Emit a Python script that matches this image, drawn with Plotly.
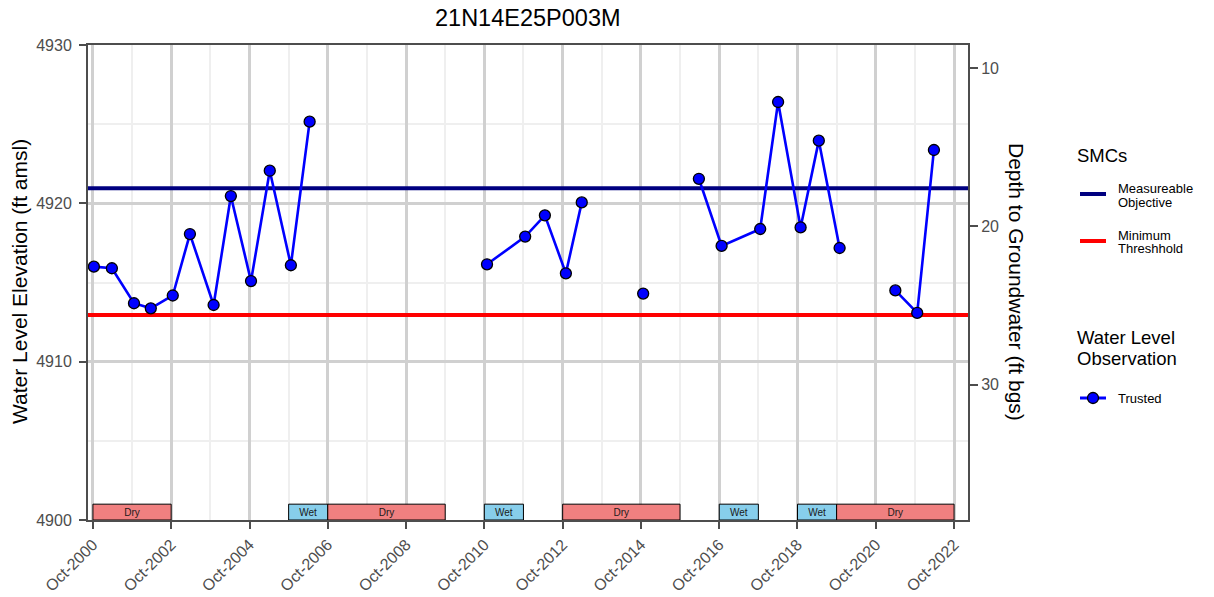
import pandas as pd
import plotly.graph_objects as go

# ---------------- data ----------------
chart_title = "21N14E25P003M"

obs_dates = [
    "2000-10-10", "2001-03-27", "2001-10-19", "2002-03-25", "2002-10-16",
    "2003-03-25", "2003-11-01", "2004-04-10", "2004-10-15", "2005-04-08",
    "2005-10-22", "2006-04-15",
    "2010-10-26", "2011-10-17", "2012-04-18", "2012-10-31", "2013-03-28",
    "2014-10-22",
    "2016-03-25", "2016-10-23", "2017-10-18", "2018-04-03", "2018-10-30",
    "2019-04-18", "2019-10-29",
    "2021-04-01", "2021-10-22", "2022-03-27",
]
obs_elev = [
    4916.0, 4915.9, 4913.69, 4913.37, 4914.18,
    4918.06, 4913.58, 4920.46, 4915.09, 4922.06,
    4916.09, 4925.16,
    4916.15, 4917.9, 4919.24, 4915.58, 4920.06,
    4914.3,
    4921.55, 4917.31, 4918.38, 4926.4, 4918.48,
    4923.96, 4917.18,
    4914.5, 4913.08, 4923.37,
]

mo_elev = 4920.95   # Measureable Objective
mt_elev = 4912.95   # Minimum Threshhold
gse_elev = 4938.55  # ground surface elevation (for depth axis)

period_start = ["2000-10-01", "2005-10-01", "2006-10-01", "2010-10-01",
                "2012-10-01", "2016-10-01", "2018-10-01", "2019-10-01"]
period_end = ["2002-10-01", "2006-10-01", "2009-10-01", "2011-10-01",
              "2015-10-01", "2017-10-01", "2019-10-01", "2022-10-01"]
period_type = ["Dry", "Wet", "Dry", "Wet", "Dry", "Wet", "Wet", "Dry"]

x_ticks = [f"{y}-10-01" for y in range(2000, 2023, 2)]
x_tick_text = [f"Oct-{y}" for y in range(2000, 2023, 2)]
x_minor = [f"{y}-10-01" for y in range(2001, 2023, 2)]
elev_ticks = [4900, 4910, 4920, 4930]
depth_ticks = [10, 20, 30]
elev_range = [4900, 4930]
x_range = ["2000-08-16", "2023-02-08"]

# ---------------- layout geometry ----------------
W, H = 1214, 597
ML, MR, MT, MB = 88, 246, 45, 77
PW, PH = W - ML - MR, H - MT - MB
FONT = "Liberation Sans, Arial, sans-serif"
TICKC = "#4D4D4D"


def px(x):
    return (x - ML) / PW


def py(y):
    return (H - MB - y) / PH


# build broken line (gaps > 400 days)
d = pd.to_datetime(obs_dates)
xs, ys = [], []
for i in range(len(d)):
    if i > 0 and (d[i] - d[i - 1]).days > 400:
        xs.append(None)
        ys.append(None)
    xs.append(d[i])
    ys.append(obs_elev[i])

fig = go.Figure()

# wet / dry period bars
ps = pd.to_datetime(period_start)
pe = pd.to_datetime(period_end)
mids = [s + (e - s) / 2 for s, e in zip(ps, pe)]
widths = [(e - s).total_seconds() * 1000 for s, e in zip(ps, pe)]
fig.add_trace(go.Bar(
    x=mids, y=[1] * len(mids), base=[elev_range[0]] * len(mids), width=widths,
    marker=dict(color=["#F08080" if t == "Dry" else "#87CEEB" for t in period_type],
                line=dict(color="black", width=1)),
    text=period_type, textposition="inside", insidetextanchor="middle",
    textangle=0, textfont=dict(size=10, color="#1A1A1A", family="Liberation Sans"),
    showlegend=False, hoverinfo="skip",
))

# SMC lines
xr = pd.to_datetime(x_range)
fig.add_trace(go.Scatter(x=list(xr), y=[mo_elev, mo_elev], mode="lines",
                         line=dict(color="#000080", width=4),
                         showlegend=False, hoverinfo="skip"))
fig.add_trace(go.Scatter(x=list(xr), y=[mt_elev, mt_elev], mode="lines",
                         line=dict(color="#FF0000", width=4),
                         showlegend=False, hoverinfo="skip"))

fig.add_trace(go.Scatter(
    x=xs, y=ys, mode="lines+markers",
    line=dict(color="#0000FF", width=2.6),
    marker=dict(size=11, color="#0000FF", line=dict(color="black", width=1.3)),
    connectgaps=False, showlegend=False, hoverinfo="x+y",
))
# invisible trace on depth axis
fig.add_trace(go.Scatter(
    x=d, y=[gse_elev - v for v in obs_elev], yaxis="y2", mode="markers",
    marker=dict(opacity=0), showlegend=False, hoverinfo="skip",
))

shapes = []
annotations = []

# title & axis titles
annotations.append(dict(x=px(528), y=py(18), xref="paper", yref="paper",
                        text=chart_title, showarrow=False,
                        font=dict(size=23.5, color="black", family=FONT),
                        xanchor="center", yanchor="middle"))
annotations.append(dict(x=px(19), y=py(282), xref="paper", yref="paper",
                        text="Water Level Elevation (ft amsl)", showarrow=False,
                        textangle=-90,
                        font=dict(size=21, color="black", family=FONT),
                        xanchor="center", yanchor="middle"))
annotations.append(dict(x=px(1017), y=py(282), xref="paper", yref="paper",
                        text="Depth to Groundwater (ft bgs)", showarrow=False,
                        textangle=90,
                        font=dict(size=21, color="black", family=FONT),
                        xanchor="center", yanchor="middle"))

# ---- manual legend ----
def legend_text(x, y, text, size):
    annotations.append(dict(x=px(x), y=py(y), xref="paper", yref="paper",
                            text=text, showarrow=False,
                            font=dict(size=size, color="black", family=FONT),
                            xanchor="left", yanchor="middle"))


legend_text(1075, 155, "SMCs", 18.5)
shapes.append(dict(type="line", xref="paper", yref="paper", x0=px(1080),
                   x1=px(1106), y0=py(194), y1=py(194),
                   line=dict(color="#000080", width=4)))
legend_text(1116, 189, "Measureable", 13)
legend_text(1116, 202, "Objective", 13)
shapes.append(dict(type="line", xref="paper", yref="paper", x0=px(1080),
                   x1=px(1106), y0=py(241), y1=py(241),
                   line=dict(color="#FF0000", width=4)))
legend_text(1116, 235, "Minimum", 13)
legend_text(1116, 248, "Threshhold", 13)

legend_text(1075, 337, "Water Level", 18.5)
legend_text(1075, 358, "Observation", 18.5)
shapes.append(dict(type="line", xref="paper", yref="paper", x0=px(1080),
                   x1=px(1106), y0=py(398), y1=py(398),
                   line=dict(color="#0000FF", width=3)))
shapes.append(dict(type="circle", xref="paper", yref="paper",
                   x0=px(1087.5), x1=px(1098.5), y0=py(403.5), y1=py(392.5),
                   fillcolor="#0000FF", line=dict(color="black", width=1.3)))
legend_text(1116, 398, "Trusted", 13)

fig.update_layout(
    width=W, height=H, autosize=False,
    margin=dict(l=ML, r=MR, t=MT, b=MB, pad=0),
    paper_bgcolor="white", plot_bgcolor="white",
    showlegend=False, barmode="overlay",
    uniformtext=dict(minsize=10, mode="show"),
    font=dict(family=FONT, color=TICKC),
    shapes=shapes, annotations=annotations,
    xaxis=dict(
        type="date", range=x_range, tickmode="array",
        tickvals=x_ticks, ticktext=x_tick_text, tickangle=-45,
        tickfont=dict(size=16, color=TICKC, family=FONT),
        ticks="outside", ticklen=7, tickwidth=2, tickcolor=TICKC,
        showgrid=True, gridcolor="#D0D0D0", gridwidth=2.5,
        minor=dict(tickvals=x_minor, showgrid=True, gridcolor="#EFEFEF",
                   gridwidth=1.5, ticks=""),
        showline=True, linecolor=TICKC, linewidth=2, mirror=True,
        zeroline=False, automargin=False,
    ),
    yaxis=dict(
        range=elev_range, tickmode="array", tickvals=elev_ticks,
        tickfont=dict(size=16, color=TICKC, family=FONT),
        ticks="outside", ticklen=7, tickwidth=2, tickcolor=TICKC,
        ticklabelstandoff=4,
        showgrid=True, gridcolor="#D0D0D0", gridwidth=2.5,
        minor=dict(dtick=5, tick0=4900, showgrid=True, gridcolor="#EFEFEF",
                   gridwidth=1.5, ticks=""),
        showline=True, linecolor=TICKC, linewidth=2, zeroline=False,
        automargin=False,
    ),
    yaxis2=dict(
        overlaying="y", side="right",
        range=[gse_elev - elev_range[0], gse_elev - elev_range[1]],
        tickmode="array", tickvals=depth_ticks,
        tickfont=dict(size=16, color=TICKC, family=FONT),
        ticks="outside", ticklen=8, tickwidth=2, tickcolor=TICKC,
        showgrid=False, showline=True, linecolor=TICKC, linewidth=2,
        zeroline=False, automargin=False,
    ),
)

fig.write_html("out.html",
               config={"displayModeBar": False},
               post_script="document.body.style.margin='0px';"
                           "document.body.style.padding='0px';")
